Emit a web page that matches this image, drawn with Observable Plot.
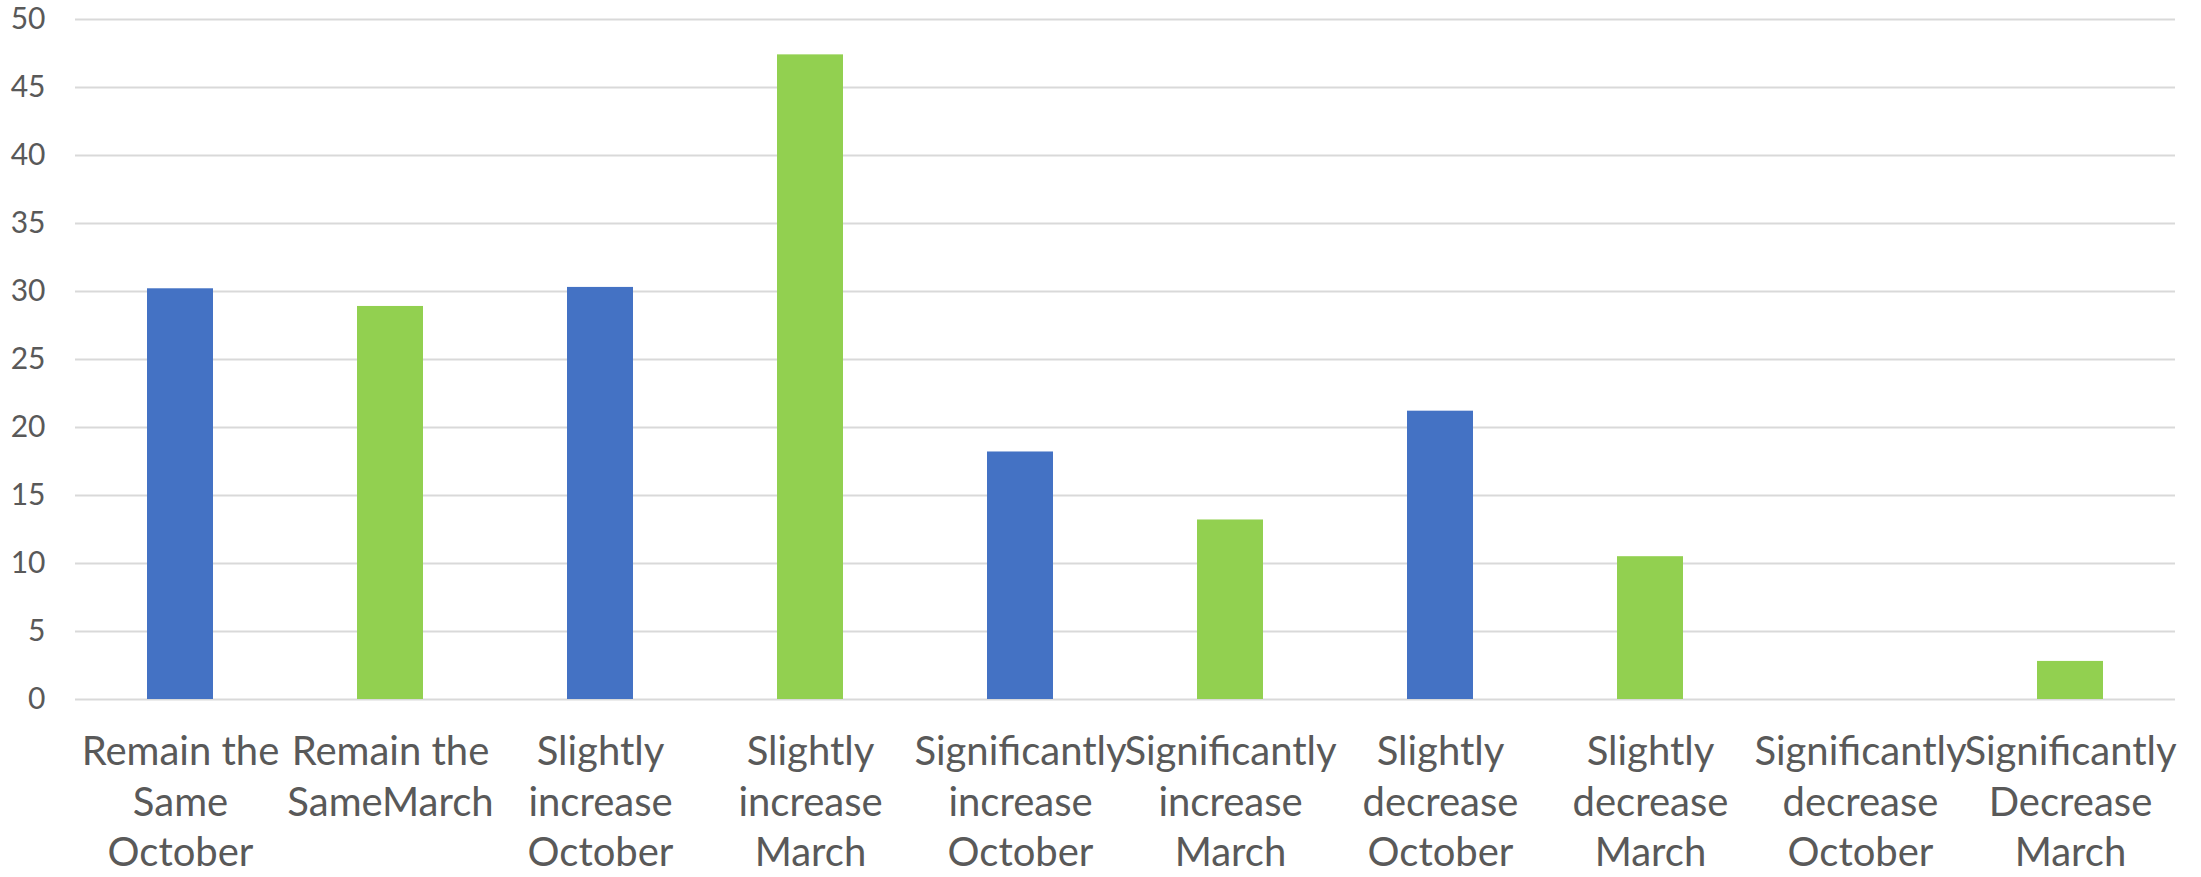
<!DOCTYPE html>
<html>
<head>
<meta charset="utf-8">
<script src="https://cdn.jsdelivr.net/npm/d3@7"></script>
<script src="https://cdn.jsdelivr.net/npm/@observablehq/plot@0.6"></script>
<style>
  html, body { margin: 0; padding: 0; background: #ffffff; }
  #chart svg { display: block; background: #ffffff; }
</style>
</head>
<body>
<div id="chart"></div>
<script>
const categories = [
  "Remain the Same October",
  "Remain the SameMarch",
  "Slightly increase October",
  "Slightly increase March",
  "Significantly increase October",
  "Significantly increase March",
  "Slightly decrease October",
  "Slightly decrease March",
  "Significantly decrease October",
  "Significantly Decrease March"
];
const tickLabels = [
  "Remain the\nSame\nOctober",
  "Remain the\nSameMarch",
  "Slightly\nincrease\nOctober",
  "Slightly\nincrease\nMarch",
  "Significantly\nincrease\nOctober",
  "Significantly\nincrease\nMarch",
  "Slightly\ndecrease\nOctober",
  "Slightly\ndecrease\nMarch",
  "Significantly\ndecrease\nOctober",
  "Significantly\nDecrease\nMarch"
];
const series = ["October", "March", "October", "March", "October", "March", "October", "March", "October", "March"];
const values = [30.2, 28.9, 30.3, 47.4, 18.2, 13.2, 21.2, 10.5, 0, 2.8];
const yTicks = [0, 5, 10, 15, 20, 25, 30, 35, 40, 45, 50];

const data = categories.map((c, i) => ({category: c, value: values[i], series: series[i]}));
const labelOf = new Map(categories.map((c, i) => [c, tickLabels[i]]));

const textColor = "#595959";
const font = "Lato, 'Open Sans', sans-serif";

const chart = Plot.plot({
  width: 2201,
  height: 877,
  marginLeft: 75,
  marginRight: 26,
  marginTop: 19,
  marginBottom: 178,
  style: {fontFamily: font, background: "#ffffff", color: textColor},
  x: {domain: categories, paddingInner: 0.686, paddingOuter: 0.343},
  y: {domain: [0, 50]},
  color: {domain: ["October", "March"], range: ["#4472C4", "#92D050"]},
  marks: [
    Plot.gridY(yTicks, {stroke: "#D9D9D9", strokeOpacity: 1, strokeWidth: 2}),
    Plot.barY(data, {x: "category", y: "value", fill: "series"}),
    Plot.axisY(yTicks, {tickSize: 0, tickPadding: 30, fontSize: 30, fill: textColor, label: null}),
    Plot.axisX({tickSize: 0, tickPadding: 30, fontSize: 40, lineHeight: 1.26, fill: textColor, label: null, tickFormat: d => labelOf.get(d)})
  ]
});
document.getElementById("chart").appendChild(chart);
</script>
</body>
</html>
